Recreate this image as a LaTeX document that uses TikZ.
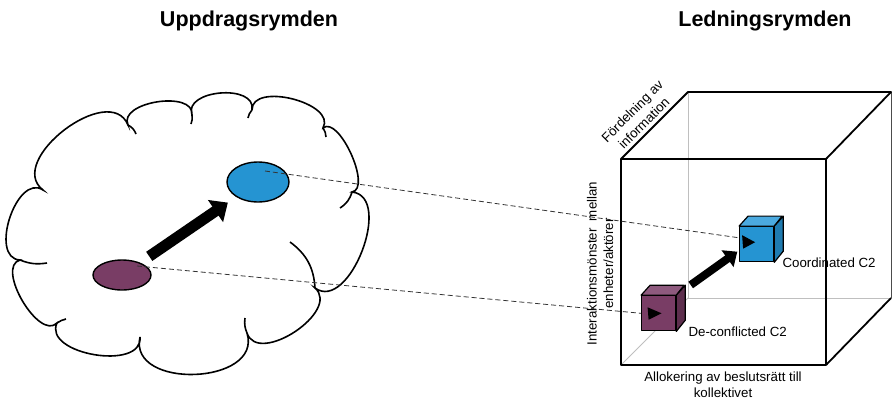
\documentclass[tikz,border=0pt]{standalone}
\usepackage{fontspec}
\setmainfont{Liberation Sans}
\usepackage{tikz}
\usetikzlibrary{positioning, arrows.meta, shapes.geometric}

\definecolor{c2blue}{HTML}{2594D2}
\definecolor{c2bluetop}{HTML}{4BAAE0}
\definecolor{c2blueside}{HTML}{1F7BB0}
\definecolor{c2purple}{HTML}{793D65}
\definecolor{c2purpletop}{HTML}{8E5A7E}
\definecolor{c2purpleside}{HTML}{5E2F4E}

\begin{document}
\begin{tikzpicture}[x=1pt, y=-1pt,
    title/.style={font=\fontsize{21.5}{25}\selectfont\bfseries, inner sep=0pt},
    lbl/.style={font=\fontsize{13.3}{16.5}\selectfont, align=center, inner sep=0pt},
    blob/.style={draw, ellipse, line width=1.4pt, inner sep=0pt},
    face/.style={draw, line width=1.2pt, line join=round},
    cube/.style={face, minimum width=34pt, minimum height=35pt, inner sep=0pt},
    edge/.style={line width=1.8pt, line join=round},
    hidden/.style={line width=1pt, black!25},
    proj/.style={dash pattern=on 5pt off 3pt, line width=0.8pt, black!80},
    move/.style={line width=11pt, -{Triangle[length=15pt, width=26pt]}},
    shift2/.style={line width=8pt, -{Triangle[length=12pt, width=20pt]}},
    puff/.style={bend left=105, looseness=#1},
    curl/.style={line width=1.6pt},
]
\useasboundingbox (0,0) rectangle (894,399);

\node[title, anchor=base] (uppdrag) at (249,26.7) {Uppdragsrymden};
\node[title, anchor=base] (ledning) at (765,26.7) {Ledningsrymden};

% cloud
\draw[line width=1.6pt, fill=white]
    (43,190) to[puff=1.15] (128,125) to[puff=1.0] (192,115)
    to[puff=1.15] (252,110) to[puff=1.0] (323,128)
    to[puff=0.75] (352,192) to[puff=1.05] (315,288)
    to[puff=1.1] (247,333) to[puff=1.3] (140,337)
    to[puff=1.05] (57,323) to[puff=0.9] (20,260)
    to[puff=1.1] cycle;
\draw[curl] (128,125) to[bend left=20] (136,134);
\draw[curl] (192,115) to[bend left=15] (191,124);
\draw[curl] (252,110) to[bend right=15] (248,118);
\draw[curl] (323,128) to[bend left=15] (326,137);
\draw[curl] (352,192) to[bend left=20] (340,208);
\draw[curl] (315,288) to[bend right=25] (290,242);
\draw[curl] (247,333) to[bend left=15] (245,318);
\draw[curl] (57,323) to[bend left=10] (66,319);
\draw[curl] (20,260) to[bend right=15] (47,263);

\node[blob, fill=c2blue, minimum width=62pt, minimum height=40pt] (blueblob) at (258,182) {};
\node[blob, fill=c2purple, minimum width=58pt, minimum height=30pt] (purpleblob) at (122,275) {};
\draw[move, shorten <=11pt, shorten >=10pt] (purpleblob) -- (blueblob);

% command space cube
\coordinate (ftl) at (621,159);
\coordinate (ftr) at (826,159);
\coordinate (fbr) at (826,365);
\coordinate (fbl) at (621,365);
\coordinate (btl) at (688,92);
\coordinate (btr) at (891,92);
\coordinate (bbr) at (891,298);
\coordinate (bbl) at (688,298);

\draw[hidden] (btl) -- (bbl) -- (bbr);
\draw[hidden] (bbl) -- (fbl);
\draw[line width=1pt, black!70] (btr) -- (bbr);
\draw[edge] (ftl) rectangle (fbr);
\draw[edge] (ftl) -- (btl) -- (btr) -- (ftr);
\draw[edge] (bbr) -- (fbr);

\node[lbl, rotate=45] (fordelning) at (638,117) {Fördelning av\\information};
\node[lbl, rotate=90] (interaktion) at (600,263.5) {Interaktionsmönster\ \ mellan\\enheter/aktörer};
\node[lbl] (allokering) at (723,384.5) {Allokering av beslutsrätt till\\kollektivet};

% C2 cubes
\node[cube, fill=c2blue] (bluecube) at (756.7,244.2) {};
\draw[face, fill=c2bluetop] (bluecube.north west) -- ++(9,-10) -- ++(34,0) -- (bluecube.north east) -- cycle;
\draw[face, fill=c2blueside] (bluecube.north east) -- ++(9,-10) -- ++(0,35) -- (bluecube.south east) -- cycle;
\fill (bluecube.west) ++(3,-9) -- ++(13,7) -- ++(-12,6.5) -- cycle;

\node[cube, fill=c2purple] (purplecube) at (658.7,313.3) {};
\draw[face, fill=c2purpletop] (purplecube.north west) -- ++(9,-10) -- ++(34,0) -- (purplecube.north east) -- cycle;
\draw[face, fill=c2purpleside] (purplecube.north east) -- ++(9,-10) -- ++(0,35) -- (purplecube.south east) -- cycle;
\fill (purplecube.west) ++(6.5,-6) -- ++(14,6) -- ++(-13,6.5) -- cycle;

\draw[shift2] ([shift={(32,-28.3)}]purplecube.center) -- ([shift={(-19.4,7.5)}]bluecube.center);

\node[lbl, right=8pt of bluecube.south east] (coordlbl) {Coordinated C2};
\node[lbl, right=12pt of purplecube.south east] (deconflbl) {De-conflicted C2};

\draw[proj] ([shift={(7,-11)}]blueblob.center) -- (bluecube.160);
\draw[proj] ([shift={(15,-9)}]purpleblob.center) -- (purplecube.west);
\end{tikzpicture}
\end{document}
